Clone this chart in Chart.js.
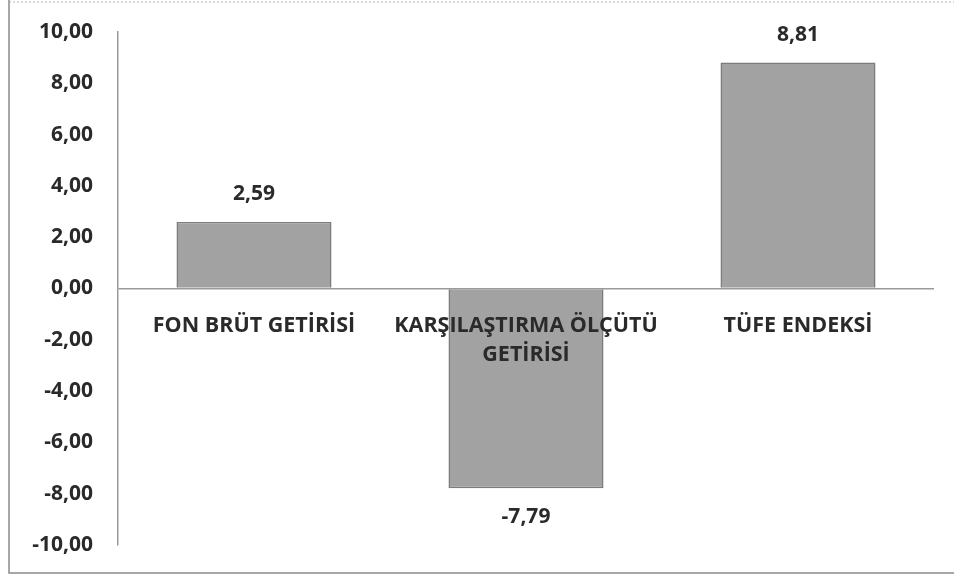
<!DOCTYPE html>
<html>
<head>
<meta charset="utf-8">
<script src="https://cdn.jsdelivr.net/npm/chart.js@4.4.1/dist/chart.umd.min.js"></script>
<style>
    html, body { margin: 0; padding: 0; background: #fff; }
    #wrap { width: 954px; height: 576px; position: relative; }
</style>
</head>
<body>
<div id="wrap"><canvas id="getiriChart"></canvas></div>
<script>
// Veriler
const categories = [['FON BRÜT GETİRİSİ'], ['KARŞILAŞTIRMA ÖLÇÜTÜ', 'GETİRİSİ'], ['TÜFE ENDEKSİ']];
const values = [2.59, -7.79, 8.81];
const yTicks = [-10, -8, -6, -4, -2, 0, 2, 4, 6, 8, 10];

const FONT = "'Open Sans', 'Noto Sans', sans-serif";
const TEXT = '#2a2a2a';

function fmt(v) {
    return v.toFixed(2).replace('.', ',');
}

// Dis cerceve
const framePlugin = {
    id: 'frame',
    beforeDraw(chart) {
        const ctx = chart.ctx;
        ctx.save();
        ctx.strokeStyle = '#8a8a8a';
        ctx.lineWidth = 1.5;
        ctx.beginPath();
        ctx.moveTo(9, 0);
        ctx.lineTo(9, 573);
        ctx.lineTo(954, 573);
        ctx.stroke();
        ctx.setLineDash([2, 2]);
        ctx.lineWidth = 1;
        ctx.strokeStyle = '#b0b0b0';
        ctx.beginPath();
        ctx.moveTo(9, 2);
        ctx.lineTo(954, 2);
        ctx.stroke();
        ctx.restore();
    }
};

// Deger etiketleri ve kategori etiketleri
const labelPlugin = {
    id: 'labels',
    afterDatasetsDraw(chart) {
        const ctx = chart.ctx;
        const meta = chart.getDatasetMeta(0);
        const x = chart.scales.x;
        const y = chart.scales.y;
        const zeroY = y.getPixelForValue(0);
        ctx.save();
        ctx.fillStyle = TEXT;
        ctx.textAlign = 'center';
        ctx.textBaseline = 'middle';
        ctx.font = '700 21px ' + FONT;
        meta.data.forEach((bar, i) => {
            const v = values[i];
            const ty = v >= 0 ? bar.y - 28 : bar.y + 29;
            ctx.fillText(fmt(v), bar.x, ty);
        });
        ctx.font = '700 21.5px ' + FONT;
        categories.forEach((lines, i) => {
            const cx = x.getPixelForValue(i);
            lines.forEach((t, j) => {
                ctx.fillText(t, cx, zeroY + 37 + j * 29);
            });
        });
        ctx.restore();
    }
};

const ctx = document.getElementById('getiriChart').getContext('2d');
new Chart(ctx, {
    type: 'bar',
    data: {
        labels: categories.map(c => c.join(' ')),
        datasets: [{
            data: values,
            backgroundColor: '#a2a2a2',
            borderColor: '#7c7c7c',
            borderWidth: 1.5,
            barPercentage: 0.57,
            categoryPercentage: 1
        }]
    },
    options: {
        responsive: true,
        maintainAspectRatio: false,
        animation: false,
        layout: {
            padding: { left: 0, right: 20, top: 32, bottom: 31 }
        },
        plugins: {
            legend: { display: false },
            tooltip: { enabled: false }
        },
        scales: {
            x: {
                display: false
            },
            y: {
                min: -10,
                max: 10,
                afterFit(scale) {
                    scale.width = 118;
                    scale.paddingTop = 0;
                    scale.paddingBottom = 0;
                },
                afterBuildTicks(scale) {
                    scale.ticks = yTicks.map(v => ({ value: v }));
                },
                border: { display: true, color: '#9a9a9a', width: 1.5 },
                grid: {
                    drawTicks: false,
                    color: c => c.tick && c.tick.value === 0 ? '#9a9a9a' : 'rgba(0,0,0,0)',
                    lineWidth: 1.5
                },
                ticks: {
                    padding: 25,
                    color: TEXT,
                    font: { family: FONT, size: 21, weight: '700' },
                    callback: v => fmt(v)
                }
            }
        }
    },
    plugins: [framePlugin, labelPlugin]
});
</script>
</body>
</html>
